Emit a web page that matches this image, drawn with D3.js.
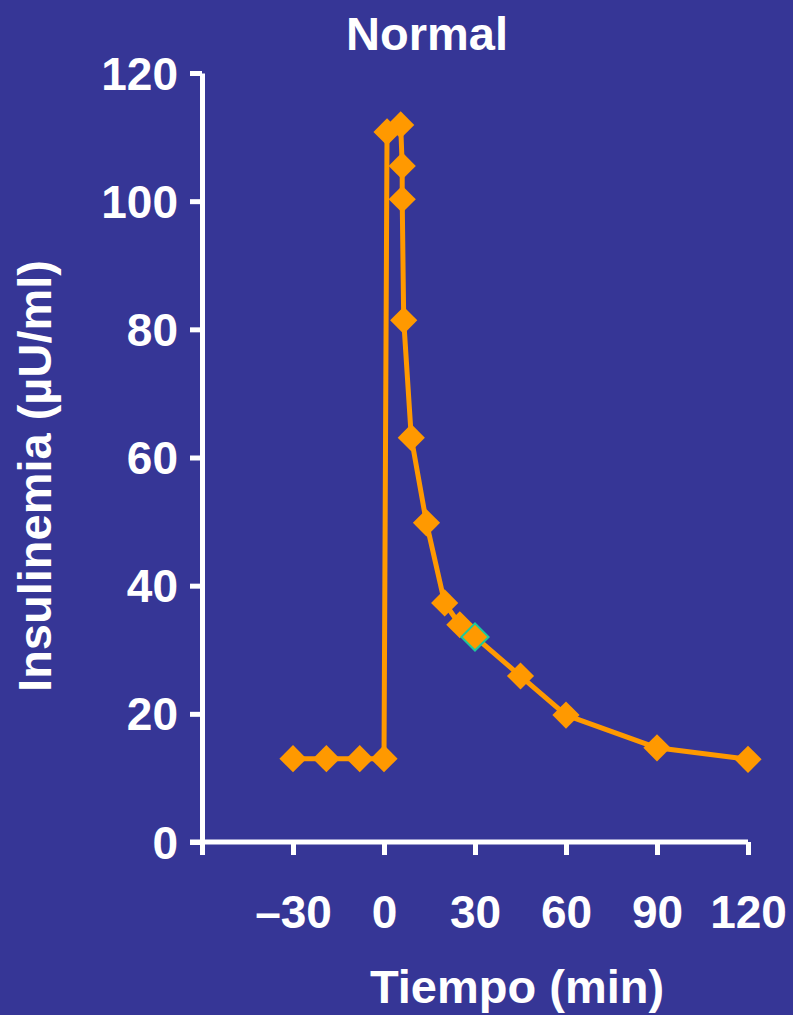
<!DOCTYPE html>
<html lang="es">
  <head>
    <meta charset="utf-8">
    <style type="text/css">
      html, body {
        margin: 0;
        padding: 0;
        background-color: #363696;
      }

      svg {
        display: block;
        background-color: #363696;
      }

      text {
        fill: white;
        font-family: "Liberation Sans", Arial, sans-serif;
        font-weight: bold;
      }
    </style>
  </head>
  <body>
    <script src="https://cdn.jsdelivr.net/npm/d3@7"></script>
    <svg id="chart"></svg>

    <script type="text/javascript">
var tiempo = [-30, -19, -8, 0, 1, 5.5, 6, 6, 6.5, 9, 14, 20, 25, 30, 45, 60, 90, 120];
var insulinemia = [13, 13, 13, 13, 110.8, 111.9, 105.5, 100.3, 81.4, 63.1, 49.8, 37.3, 33.9, 32, 25.9, 19.8, 14.7, 12.9];
var xTicks = [-60, -30, 0, 30, 60, 90, 120];
var xTickLabels = ["", "–30", "0", "30", "60", "90", "120"];
var yTicks = [0, 20, 40, 60, 80, 100, 120];
var destacado = 30; // the one marker drawn with a green edge

var width = 793;
var height = 1015;
var margin = {
  top: 73,
  bottom: 173,
  left: 202,
  right: 45,
}

var orange = "#ff9900";

var svg = d3.select("#chart")
  .attr("width", width)
  .attr("height", height);

var x = d3.scaleLinear()
  .domain([-60, 120])
  .range([margin.left, width - margin.right]);

var y = d3.scaleLinear()
  .domain([0, 120])
  .range([height - margin.bottom, margin.top]);

var xAxis = d3.axisBottom(x)
  .tickValues(xTicks)
  .tickSizeInner(13)
  .tickSizeOuter(0)
  .tickFormat(function(d, i) { return xTickLabels[i]; });

var yAxis = d3.axisLeft(y)
  .tickValues(yTicks)
  .tickSizeInner(12)
  .tickSizeOuter(0);

var xAxisGroup = svg.append("g")
  .attr("transform", "translate(0," + y(0) + ")")
  .call(xAxis);

var yAxisGroup = svg.append("g")
  .attr("transform", "translate(" + x(-60) + ",0)")
  .call(yAxis);

// thick white axes like the slide
[xAxisGroup, yAxisGroup].forEach(function(g) {
  g.selectAll("path, line")
    .attr("stroke", "white")
    .attr("stroke-width", 5);
  g.selectAll("text")
    .attr("fill", "white")
    .style("font-size", "46px")
    .style("font-family", "'Liberation Sans', Arial, sans-serif")
    .style("font-weight", "bold");
});

// x domain runs a bit left so it meets the 0 tick of the y axis
xAxisGroup.select(".domain")
  .attr("d", "M" + (x(-60) - 12) + ",0H" + x(120));

xAxisGroup.selectAll(".tick text")
  .attr("y", 86)
  .attr("dy", 0);

yAxisGroup.selectAll(".tick text")
  .attr("x", -24)
  .attr("dy", "0.35em");

var line = d3.line()
  .x(function(d) { return x(d[0]); })
  .y(function(d) { return y(d[1]); });

var puntos = tiempo.map(function(t, i) { return [t, insulinemia[i]]; });

svg.append("path")
  .datum(puntos)
  .attr("d", line)
  .attr("fill", "none")
  .attr("stroke", orange)
  .attr("stroke-width", 5)
  .attr("stroke-linejoin", "round");

var diamond = d3.symbol().type(d3.symbolSquare).size(370);

svg.append("g").selectAll("path")
  .data(puntos)
  .enter()
  .append("path")
  .attr("d", diamond)
  .attr("transform", function(d) { return "translate(" + x(d[0]) + "," + y(d[1]) + ") rotate(45)"; })
  .attr("fill", orange)
  .attr("stroke", function(d) { return d[0] === destacado ? "#1fc99a" : "none"; })
  .attr("stroke-width", 2);

svg.append("text")
  .attr("x", 427)
  .attr("y", 50)
  .attr("text-anchor", "middle")
  .style("font-size", "47px")
  .text("Normal");

svg.append("text")
  .attr("x", 517)
  .attr("y", 1003)
  .attr("text-anchor", "middle")
  .style("font-size", "47px")
  .text("Tiempo (min)");

svg.append("text")
  .attr("transform", "translate(51,476) rotate(-90)")
  .attr("text-anchor", "middle")
  .style("font-size", "47px")
  .text("Insulinemia (µU/ml)");
    </script>
  </body>
</html>
